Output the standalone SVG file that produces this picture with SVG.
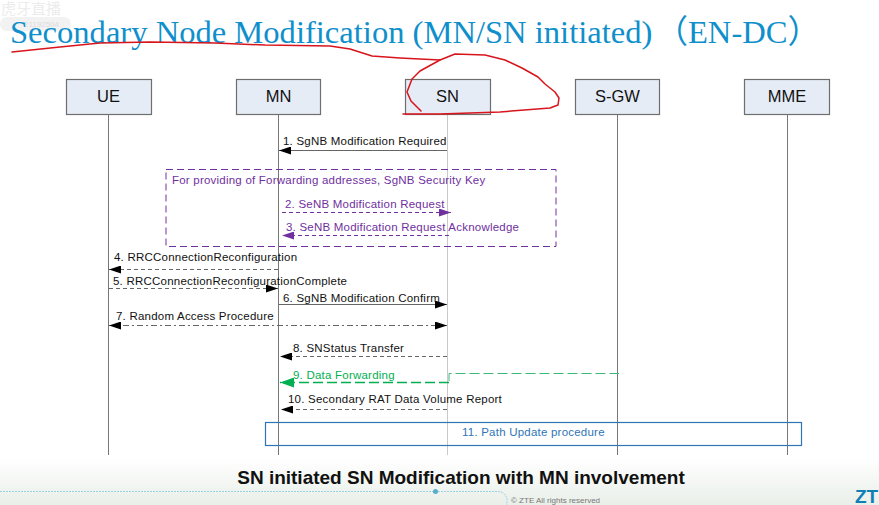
<svg xmlns="http://www.w3.org/2000/svg" width="879" height="505" viewBox="0 0 879 505">
<defs>
<linearGradient id="bg" x1="0" y1="0" x2="0" y2="1"><stop offset="0" stop-color="#ffffff"/><stop offset="1" stop-color="#e9efe9"/></linearGradient>
<marker id="ab" markerUnits="userSpaceOnUse" markerWidth="12" markerHeight="8" refX="12" refY="4" orient="auto-start-reverse"><path d="M0 0L12 4L0 8Z" fill="#000"/></marker>
<marker id="ap" markerUnits="userSpaceOnUse" markerWidth="12" markerHeight="8" refX="12" refY="4" orient="auto-start-reverse"><path d="M0 0L12 4L0 8Z" fill="#7030a0"/></marker>
<marker id="ag" markerUnits="userSpaceOnUse" markerWidth="14" markerHeight="10" refX="14" refY="5" orient="auto-start-reverse"><path d="M0 0L14 5L0 10Z" fill="#00b050"/></marker>
</defs>
<style>
text{font-family:"Liberation Sans",Arial,sans-serif}
.box{fill:#e6ecf6;stroke:#6e6e6e;stroke-width:1.2}
.name{font-size:16.5px;fill:#111;text-anchor:middle}
.life{stroke:#777;stroke-width:1;fill:none}
.m{font-size:11.500px;fill:#111;letter-spacing:.22px}
.p{font-size:11.500px;fill:#7030a0;letter-spacing:.22px}
.k{stroke:#666;stroke-width:1;fill:none;marker-end:url(#ab)}
.d{stroke-dasharray:4 3}
.v{stroke:#7030a0;stroke-width:1;fill:none;stroke-dasharray:4 3;marker-end:url(#ap)}
.red{fill:none;stroke:#d8141c;stroke-width:1.5;stroke-linejoin:round;stroke-linecap:round}
</style>
<rect width="879" height="505" fill="#fff"/>
<rect y="458" width="879" height="47" fill="url(#bg)"/>
<g id="watermark">
<rect x="0" y="17" width="71" height="14" rx="7" fill="#f2f2f2"/>
<text x="1" y="14" font-size="15" style="font-family:'Noto Sans CJK SC',sans-serif" fill="#ececec">虎牙直播</text>
<text x="24" y="27" font-size="8" fill="#dcdcdc">21192504</text>
</g>
<text id="title" x="10" y="43" font-size="32.600" fill="#0f8fcb" style="font-family:'Liberation Serif','Noto Sans CJK SC',serif">Secondary Node Modification (MN/SN initiated)<tspan dx="3">（EN-DC）</tspan></text>
<g id="lifelines">
<path class="life" d="M108.500 115V455"/>
<path class="life" d="M278.500 115V455"/>
<path class="life" stroke-opacity=".4" d="M447.500 115V455"/>
<path class="life" d="M617.500 115V455"/>
<path class="life" d="M787.500 115V455"/>
</g>
<g id="UE"><rect class="box" x="66.500" y="79.500" width="85" height="35"/><text class="name" x="108.500" y="102">UE</text></g>
<g id="MN"><rect class="box" x="236.500" y="79.500" width="84" height="35"/><text class="name" x="278.500" y="102">MN</text></g>
<g id="SN"><rect class="box" x="405.500" y="79.500" width="85" height="35"/><text class="name" x="447.500" y="102">SN</text></g>
<g id="S-GW"><rect class="box" x="575.500" y="79.500" width="84" height="35"/><text class="name" x="617.500" y="102">S-GW</text></g>
<g id="MME"><rect class="box" x="744.500" y="79.500" width="85" height="35"/><text class="name" x="787" y="102">MME</text></g>
<g id="frame"><rect x="166" y="169.500" width="390" height="77" fill="none" stroke="#7030a0" stroke-width="1" stroke-dasharray="7 4"/><text class="p" x="172" y="184">For providing of Forwarding addresses, SgNB Security Key</text></g>
<g id="connectors">
<path class="k" d="M447 150.500H279"/>
<path class="v" d="M282 212.500H451"/>
<path class="v" d="M449 235.500H282"/>
<path class="k d" d="M278 269.500H109"/>
<path class="k d" d="M109 288.500H278"/>
<path class="k" d="M279 304.500H447"/>
<path class="k" stroke-dasharray="6 3 2 3" marker-start="url(#ab)" d="M109 325.500H447"/>
<path class="k d" d="M447 356.500H280"/>
<path d="M449 382.500H280" fill="none" stroke="#00b050" stroke-width="1.300" stroke-dasharray="10 4" marker-end="url(#ag)"/>
<path d="M449 381V373.500H619" fill="none" stroke="#3cb878" stroke-width="1" stroke-dasharray="10 4"/>
<path class="k d" d="M447 409.500H281"/>
</g>
<g id="labels">
<text class="m" x="283" y="145">1. SgNB Modification Required</text>
<text class="p" x="285" y="208">2. SeNB Modification Request</text>
<text class="p" x="286" y="231">3. SeNB Modification Request Acknowledge</text>
<text class="m" x="114" y="261">4. RRCConnectionReconfiguration</text>
<text class="m" x="113" y="285">5. RRCConnectionReconfigurationComplete</text>
<text class="m" x="283" y="302">6. SgNB Modification Confirm</text>
<text class="m" x="116" y="320">7. Random Access Procedure</text>
<text class="m" x="293" y="352">8. SNStatus Transfer</text>
<text x="293" y="379" font-size="11.500" fill="#00b050" letter-spacing=".22">9. Data Forwarding</text>
<text class="m" x="288" y="403">10. Secondary RAT Data Volume Report</text>
</g>
<g id="path-update"><rect x="265.500" y="422.500" width="536" height="23" fill="none" stroke="#2e75b6" stroke-width="1.200"/><text x="462" y="436" font-size="11.500" fill="#2e75b6" letter-spacing=".22">11. Path Update procedure</text></g>
<text id="caption" x="461" y="484" font-size="19" font-weight="bold" fill="#111" text-anchor="middle">SN initiated SN Modification with MN involvement</text>
<g id="footer">
<path d="M0 491.500H497Q506 491.500 507 500V505" fill="none" stroke="#9ccfe0" stroke-width="1" stroke-dasharray="2 1"/>
<circle cx="435.500" cy="491.500" r="2.500" fill="#5aaccc"/>
<text x="511" y="503" font-size="8" fill="#777">© ZTE All rights reserved</text>
<text x="855" y="503" font-size="19" font-weight="bold" fill="#0f7fb5">ZT</text>
</g>
<g id="ink">
<path class="red" d="M12 52L60 47L100 43L150 42L215 43L265 45L330 46L350 49L372 56L400 58L440 60"/>
<path class="red" d="M421 111L411 101L407 92L412 79L420 71L440 60L455 54L485 55L505 60L522 68L538 77L545 84L555 92L559 98L558 105L550 108L500 112L440 114L403 114"/>
</g>
</svg>
